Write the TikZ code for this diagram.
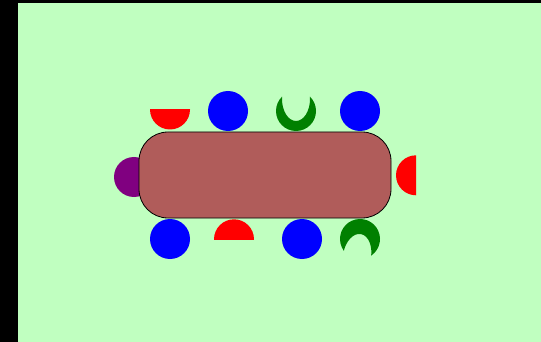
\documentclass[tikz,border=0pt]{standalone}
\definecolor{bg}{RGB}{192,255,192}
\definecolor{tablecol}{RGB}{176,92,90}
\definecolor{chblue}{RGB}{0,0,255}
\definecolor{chred}{RGB}{255,0,0}
\definecolor{chgreen}{RGB}{0,128,0}
\definecolor{chpurple}{RGB}{128,0,128}
\tikzset{
  tablebox/.style={draw=black, fill=tablecol, line width=0.8pt, rounded corners=29pt,
    minimum width=252pt, minimum height=86pt, inner sep=0pt},
}
\begin{document}
\begin{tikzpicture}[x=1pt,y=-1pt]
\useasboundingbox (0,0) rectangle (541,342);
\fill[black] (0,0) rectangle (541,342);
\fill[bg] (18,3.3) rectangle (541,342);
% blue round chairs
\fill[chblue] (228,111) circle (20pt);
\fill[chblue] (360,111) circle (20pt);
\fill[chblue] (170,239) circle (20pt);
\fill[chblue] (302,239) circle (20pt);
% red half chairs
\begin{scope}
  \clip (140,109.5) rectangle (200,140);
  \fill[chred] (170,109.5) circle (20pt);
\end{scope}
\begin{scope}
  \clip (205,239.3) rectangle (265,210);
  \fill[chred] (234,239.3) circle (20pt);
\end{scope}
\begin{scope}
  \clip (385,150) rectangle (416,200);
  \fill[chred] (416,175.3) circle (20pt);
\end{scope}
% purple chair partly under the table
\fill[chpurple] (134,177) circle (20pt);
% green crescents
\begin{scope}[shift={(296,111)}]
  \clip (0,0) circle (20pt);
  \fill[chgreen, even odd rule] (0,0) circle (22pt)
     (0,-12) ellipse [x radius=14pt, y radius=22pt];
\end{scope}
\begin{scope}[shift={(360,239)}, rotate=-10]
  \clip (0,0) circle (20pt);
  \fill[chgreen, even odd rule] (0,0) circle (22pt)
     (0,17) ellipse [x radius=14pt, y radius=22pt];
\end{scope}
% table
\node[tablebox] (table) at (265,175) {};
\end{tikzpicture}
\end{document}
